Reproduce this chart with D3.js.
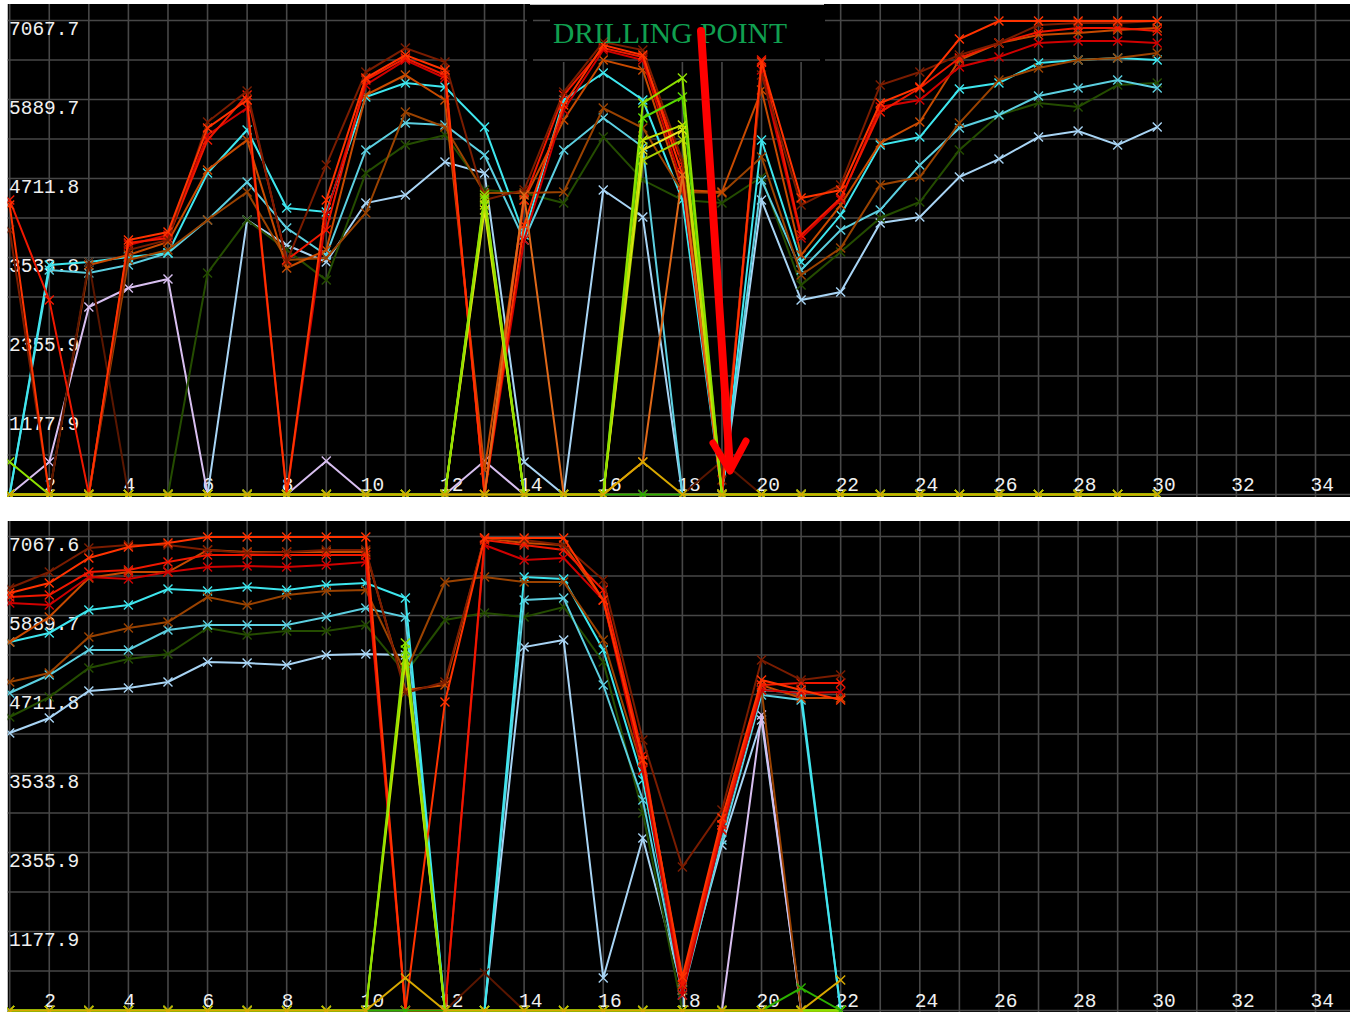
<!DOCTYPE html>
<html>
<head>
<meta charset="utf-8">
<script src="https://cdn.jsdelivr.net/npm/d3@7/dist/d3.min.js"></script>
<style>
  html, body { margin: 0; padding: 0; background: #fff; }
  svg { display: block; }
</style>
</head>
<body>
<div id="chart"></div>
<script>
// x categories and tick labels
const xTop = d3.range(1, 31);
const xBot = d3.range(1, 23);
const xTickLabels = [2, 4, 6, 8, 10, 12, 14, 16, 18, 20, 22, 24, 26, 28, 30, 32, 34];
const yTickTop = ["1177.9", "2355.9", "3533.8", "4711.8", "5889.7", "7067.7"];
const yTickBot = ["1177.9", "2355.9", "3533.8", "4711.8", "5889.7", "7067.6"];

// ---- top panel series (x = 1..30) ----
const topLightBlue = [0,0,0,0,0,0,4093,3720,3467,4346, 4466,4958,4794,485,0,4540,4138,0,0,4391, 2900,3019,4048,4138,4734,5002,5330,5420,5211,5479];
const topLavender = [0,485,2796,3079,3213,0,0,0,499,0, 0,0,499,0,0,0,0,0,0,0, 0,0,0,0,0,0,0,0,0,0];
const topDarkGreen = [0,0,0,0,0,3303,4093,3645,3198,4794, 5211,5360,4540,4495,4346,5330,4689,4391,4346,4734, 3124,3616,4123,4361,5136,5658,5837,5778,6106,6135];
const topCyanB = [0,3347,3303,3422,3601,4093,4659,3974,3571,5136, 5539,5509,5062,3795,5136,5614,5181,0,0,4689, 3347,3944,4242,4913,5465,5658,5942,6061,6180,6061];
const topCyanA = [0,3422,3467,3541,3601,4794,5435,4272,4212,5927, 6135,6076,5479,3869,5882,6285,5882,4391,0,5286, 3467,4167,5211,5330,6046,6135,6434,6478,6508,6478];
const topBrown = [0,0,0,3496,3645,4093,4510,3496,3526,4197, 5703,5479,4495,4495,4510,5763,5465,4510,4495,5032, 3273,3675,4615,4734,5539,6180,6359,6478,6508,6583];
const topOrangeBrown = [0,0,3422,3571,3765,4838,5286,3377,3645,5957, 6255,5882,365,4391,5584,6478,6329,4540,4510,6031, 3571,4316,5241,5554,6478,6732,6851,6881,6926,6956];
const topDarkBrown = [0,0,3467,0,0,0,0,0,0,0, 0,0,0,0,0,0,0,0,499,0, 0,0,0,0,0,0,0,0,0,0];
const topRedC = [0,0,0,3720,3869,5360,5763,0,4167,6106, 6478,6210,0,3795,5733,6627,6478,4615,0,6329, 3824,4391,5778,5882,6374,6523,6732,6762,6762,6732];
const topRedB = [4391,2900,0,3750,3824,5286,5957,3496,3944,6180, 6508,6255,0,4391,5957,6657,6523,4913,0,6478, 3869,4421,5703,6061,6508,6732,6896,6956,6956,6911];
const topBrownTop = [3944,0,0,3645,3795,5554,6016,3467,4913,6299, 6657,6449,4391,4540,6001,6747,6627,4987,216,6255, 4316,4615,6106,6299,6553,6732,7000,7030,7030,7060];
const topRedTop = [4316,0,0,3795,3914,5465,5882,0,4391,6210, 6553,6329,0,4018,5807,6702,6553,4764,0,6449, 4421,4540,5837,6076,6792,7060,7060,7060,7060,7060];
const topOrange = [0,0,0,0,0,0,0,0,0,0, 0,0,0,4466,0,0,485,4764,0,0, 0,0,0,0,0,0,0,0,0,0];
const topYg1 = [485,0,0,0,0,0,0,0,0,0, 0,0,4466,0,0,0,5837,6210,0,0, 0,0,0,0,0,0,0,0,0,0];
const topYg2 = [0,0,0,0,0,0,0,0,0,0, 0,0,4391,0,0,0,5614,5927,0,0, 0,0,0,0,0,0,0,0,0,0];
const topYg3 = [0,0,0,0,0,0,0,0,0,0, 0,0,4316,0,0,0,5286,5509,0,0, 0,0,0,0,0,0,0,0,0,0];
const topYg4 = [0,0,0,0,0,0,0,0,0,0, 0,0,4242,0,0,0,5136,5435,0,0, 0,0,0,0,0,0,0,0,0,0];
const topYg5 = [0,0,0,0,0,0,0,0,0,0, 0,0,4421,0,0,0,4987,5286,0,0, 0,0,0,0,0,0,0,0,0,0];
const topGreen = [0,0,0,0,0,0,0,0,0,0, 0,0,0,0,0,0,0,0,0,0, 0,0,0,0,0,0,0,0,0,0];
const topGold = [0,0,0,0,0,0,0,0,0,0, 0,0,0,0,0,0,485,0,0,0, 0,0,0,0,0,0,0,0,0,0];

// ---- bottom panel series (x = 1..22) ----
const botLightBlue = [4138,4361,4764,4808,4898,5196,5181,5151,5300,5315, 5300,0,0,5420,5524,485,2572,306,2468,4331, 0,0];
const botLavender = [0,0,0,0,0,0,0,0,0,0, 0,0,0,0,0,0,0,0,0,4406, 0,0];
const botDarkGreen = [4376,4674,5107,5241,5315,5703,5599,5658,5658,5748, 5032,5822,5927,5867,6016,5196,2945,0,0,0, 0,0];
const botCyanB = [4734,5002,5375,5375,5673,5748,5748,5748,5867,6001, 5867,0,0,6121,6150,4853,3139,231,2542,4704, 4630,0];
const botCyanA = [5494,5629,5971,6046,6285,6255,6314,6270,6344,6374, 6150,0,0,6464,6434,5375,3437,306,2691,4779, 4734,0];
const botBrown = [4898,5032,5569,5703,5793,6165,6046,6195,6255,6270, 5032,6389,6464,6389,6389,5524,3586,306,2691,4779, 0,0];
const botOrangeBrown = [5494,5867,6449,6538,6538,6866,6836,6836,6836,6836, 4779,4853,7045,6970,6941,6121,3735,455,2766,4853, 4659,4659];
const botDarkBrown = [0,0,0,0,0,0,0,0,0,0, 0,0,559,0,0,0,0,0,0,0, 0,0];
const botRedC = [6076,6046,6464,6434,6538,6613,6628,6613,6642,6687, 0,0,6941,6717,6747,6121,3586,231,2691,4779, 4734,4749];
const botRedB = [6165,6195,6538,6568,6687,6792,6792,6792,6792,6792, 0,0,7015,6941,6866,6270,3810,380,2766,4853, 4883,4883];
const botBrownTop = [6300,6538,6896,6941,6941,6866,6821,6836,6866,6866, 4734,4898,7045,7015,6941,6419,4033,2140,2989,5226, 4928,5002];
const botRedTop = [6225,6374,6747,6911,6970,7060,7060,7060,7060,7060, 0,4600,7045,7045,7045,6121,3735,499,2870,4928, 4779,4630];
const botYg1 = [0,0,0,0,0,0,0,0,0,0, 5480,0,0,0,0,0,0,0,0,0, 0,0];
const botYg2 = [0,0,0,0,0,0,0,0,0,0, 5375,0,0,0,0,0,0,0,0,0, 0,0];
const botYg3 = [0,0,0,0,0,0,0,0,0,0, 5226,0,0,0,0,0,0,0,0,0, 0,0];
const botGreen = [0,0,0,0,0,0,0,0,0,0, 0,0,0,0,0,0,0,0,0,0, 335,0];
const botGold = [0,0,0,0,0,0,0,0,0,0, 485,0,0,0,0,0,0,0,0,0, 0,455];

// drawing order, bottom to top
const topSeries = [
  {color: "#a8d4f4", values: topLightBlue},
  {color: "#d8bff0", values: topLavender},
  {color: "#244c00", values: topDarkGreen},
  {color: "#5ccfe0", values: topCyanB},
  {color: "#3ee6ee", values: topCyanA},
  {color: "#9a4200", values: topBrown},
  {color: "#c84a00", values: topOrangeBrown},
  {color: "#5a1600", values: topDarkBrown},
  {color: "#d00000", values: topRedC},
  {color: "#f01800", values: topRedB},
  {color: "#7a1c00", values: topBrownTop},
  {color: "#ff3300", values: topRedTop},
  {color: "#e06818", values: topOrange},
  {color: "#58d800", values: topYg2},
  {color: "#a8d000", values: topYg5},
  {color: "#e8e820", values: topYg4},
  {color: "#c0e000", values: topYg3},
  {color: "#8ee000", values: topYg1},
  {color: "#2cb000", values: topGreen},
  {color: "#d8a800", values: topGold}
];
const botSeries = [
  {color: "#a8d4f4", values: botLightBlue},
  {color: "#d8bff0", values: botLavender},
  {color: "#244c00", values: botDarkGreen},
  {color: "#5ccfe0", values: botCyanB},
  {color: "#3ee6ee", values: botCyanA},
  {color: "#9a4200", values: botBrown},
  {color: "#c84a00", values: botOrangeBrown},
  {color: "#5a1600", values: botDarkBrown},
  {color: "#d00000", values: botRedC},
  {color: "#f01800", values: botRedB},
  {color: "#7a1c00", values: botBrownTop},
  {color: "#ff3300", values: botRedTop},
  {color: "#58d800", values: botYg2},
  {color: "#c0e000", values: botYg3},
  {color: "#8ee000", values: botYg1},
  {color: "#2cb000", values: botGreen},
  {color: "#d8a800", values: botGold}
];

const width = 1357, height = 1012;
const gridStep = 39.5;   // px between horizontal grid lines
const svg = d3.select("#chart").append("svg")
  .attr("width", width).attr("height", height)
  .attr("viewBox", [0, 0, width, height]);

// x positions shared by both panels
const x = d3.scaleLinear().domain([1, 35]).range([9.7, 9.7 + 34 * 39.57]);

const drawPanel = (cfg) => {
  const {id, top, bottom, zero, yMax, labels, xs, series, beforeData} = cfg;
  const y = d3.scaleLinear().domain([0, yMax]).range([zero, zero - 12 * gridStep]);
  const left = 7.5, right = 1350;

  svg.append("clipPath").attr("id", id)
    .append("rect").attr("x", left).attr("y", top)
    .attr("width", right - left).attr("height", bottom - top);

  const g = svg.append("g").attr("clip-path", `url(#${id})`);
  g.append("rect").attr("x", left).attr("y", top)
    .attr("width", right - left).attr("height", bottom - top).attr("fill", "#000");

  // grid
  const grid = g.append("g").attr("stroke", "#474747").attr("stroke-width", 1.6);
  grid.selectAll("line.v").data(d3.range(1, 35)).join("line")
    .attr("class", "v")
    .attr("x1", d => x(d)).attr("x2", d => x(d))
    .attr("y1", top).attr("y2", bottom);
  grid.selectAll("line.h").data(d3.range(0, 13)).join("line")
    .attr("class", "h")
    .attr("x1", left).attr("x2", right)
    .attr("y1", d => y(d * yMax / 12)).attr("y2", d => y(d * yMax / 12));

  // tick labels
  const font = "'Liberation Mono', 'DejaVu Sans Mono', monospace";
  g.append("g").selectAll("text").data(labels).join("text")
    .attr("x", 9).attr("y", d => y(+d) + 14.5)
    .attr("fill", "#f0f0f0").attr("font-family", font).attr("font-size", 19.5)
    .text(d => d);
  g.append("g").selectAll("text").data(xTickLabels).join("text")
    .attr("x", d => x(d) - 5).attr("y", zero - 4)
    .attr("fill", "#f0f0f0").attr("font-family", font).attr("font-size", 19.5)
    .text(d => d);

  if (beforeData) beforeData(g);

  // series lines with x markers
  const line = d3.line().x((d, i) => x(xs[i])).y(d => y(d));
  const marks = g.append("g");
  series.forEach(s => {
    marks.append("path").datum(s.values)
      .attr("fill", "none").attr("stroke", s.color).attr("stroke-width", 2)
      .attr("stroke-linejoin", "miter")
      .attr("d", line);
    marks.append("g").selectAll("path").data(s.values).join("path")
      .attr("transform", (d, i) => `translate(${x(xs[i])},${y(d)})`)
      .attr("d", "M-4.5,-4.5L4.5,4.5M-4.5,4.5L4.5,-4.5")
      .attr("stroke", s.color).attr("stroke-width", 1.4).attr("fill", "none");
  });
  return g;
};

// annotation box in the top panel, covers the grid under it
const drillBox = (g) => {
  g.append("rect").attr("x", 527).attr("y", 4).attr("width", 298).attr("height", 58).attr("fill", "#000");
  g.append("line").attr("x1", 533).attr("x2", 820).attr("y1", 60).attr("y2", 60)
    .attr("stroke", "#474747").attr("stroke-width", 1.6);
  g.append("line").attr("x1", 533).attr("x2", 550).attr("y1", 20.5).attr("y2", 20.5)
    .attr("stroke", "#474747").attr("stroke-width", 1.6);
  g.append("line").attr("x1", 530).attr("x2", 824).attr("y1", 4.5).attr("y2", 4.5)
    .attr("stroke", "#bdbdbd").attr("stroke-width", 1);
};

drawPanel({id: "clipTop", top: 4, bottom: 497, zero: 494.5, yMax: 7067.7,
  labels: yTickTop, xs: xTop, series: topSeries, beforeData: drillBox});
drawPanel({id: "clipBot", top: 521, bottom: 1012, zero: 1010.5, yMax: 7067.6,
  labels: yTickBot, xs: xBot, series: botSeries});

// annotation text and arrow
svg.append("text")
  .attr("x", 553).attr("y", 42.7)
  .attr("fill", "#10a050")
  .attr("font-family", "'Liberation Serif', 'DejaVu Serif', serif")
  .attr("font-size", 29.5)
  .attr("textLength", 234).attr("lengthAdjust", "spacingAndGlyphs")
  .text("DRILLING POINT");

const arrow = svg.append("g").attr("stroke", "#ff0000").attr("fill", "none").attr("stroke-linecap", "round");
arrow.append("line").attr("x1", 701).attr("y1", 31).attr("x2", 730).attr("y2", 468).attr("stroke-width", 8);
arrow.append("path").attr("d", "M713,443L730,471L746,441")
  .attr("stroke-width", 7).attr("stroke-linejoin", "round");
</script>
</body>
</html>
